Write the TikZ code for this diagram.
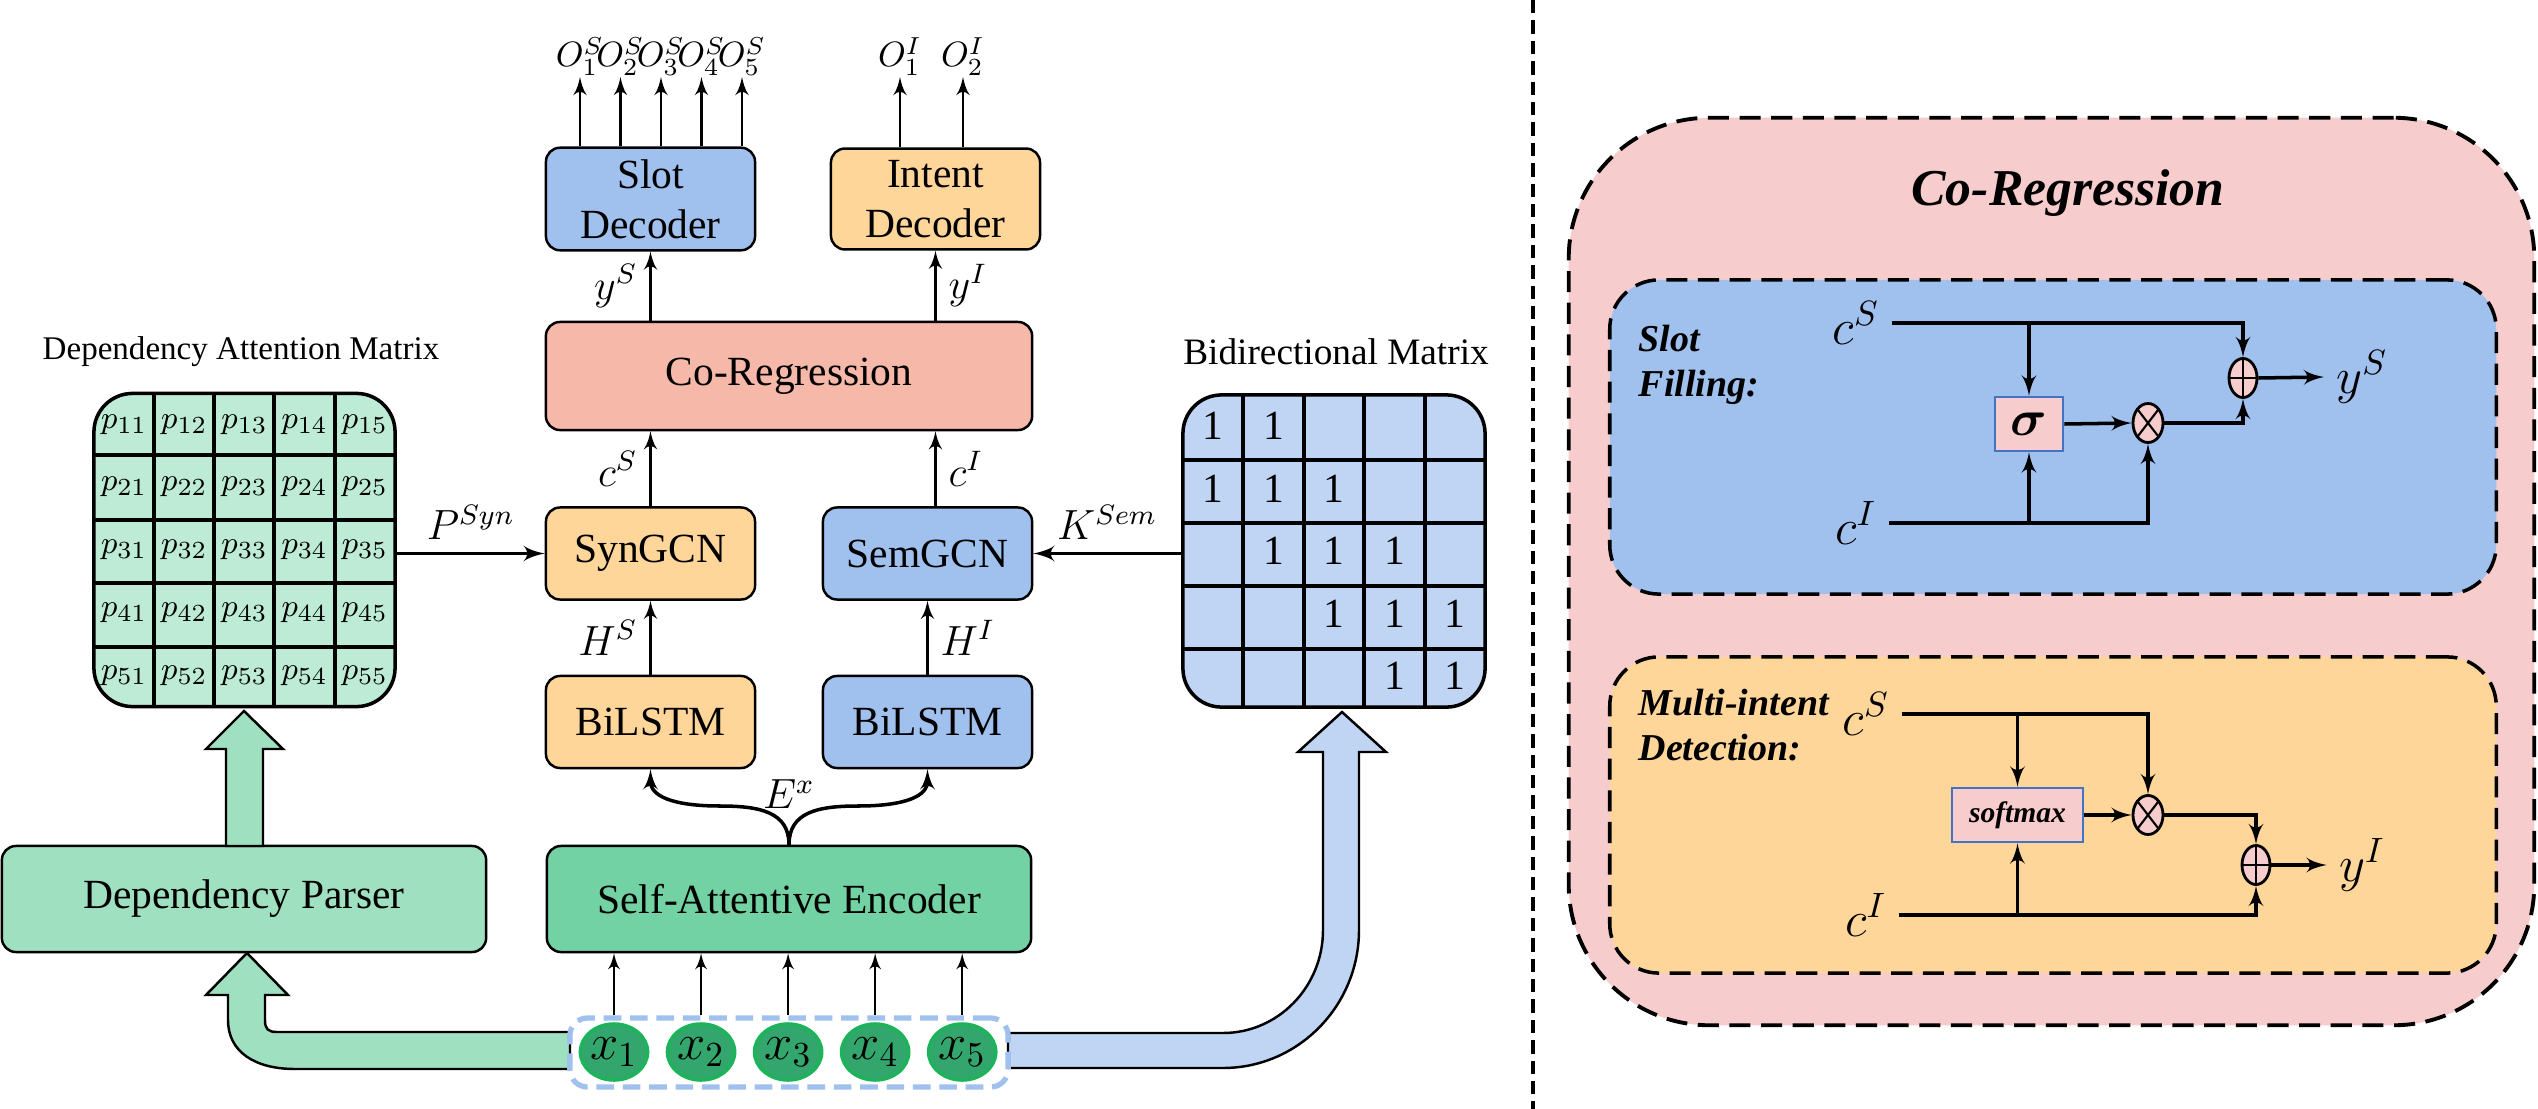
\documentclass[tikz,border=0pt]{standalone}
\usepackage{amsmath,amssymb}
\usepackage[dvipsnames]{xcolor}
\usepackage{fontspec}
\setmainfont{Liberation Serif}
\usepackage{tikz}
\usetikzlibrary{shapes,arrows}

\definecolor{slotblue}{HTML}{A0C0EE}
\definecolor{intentorange}{HTML}{FFD699}
\definecolor{coregsalmon}{HTML}{F6B8A9}
\definecolor{mintgreen}{HTML}{BDEBD6}
\definecolor{parsergreen}{HTML}{9EE0C0}
\definecolor{encgreen}{HTML}{73D2A4}
\definecolor{tokgreen}{HTML}{33A66E}
\definecolor{tokedge}{HTML}{1DB35A}
\definecolor{bimatblue}{HTML}{C0D5F4}
\definecolor{panelpink}{HTML}{F6CCCC}
\definecolor{opblue}{HTML}{4472C4}

\newcommand{\mainfs}{\fontsize{11.8}{14.2}\selectfont}
\newcommand{\bigfs}{\fontsize{14}{16}\selectfont}

\begin{document}
\begin{tikzpicture}[x=0.01cm, y=-0.01cm, >=latex', node distance=0.87cm, font=\mainfs,
    block/.style={draw, rectangle, rounded corners=4pt, line width=0.7pt, minimum width=2.09cm, minimum height=0.92cm, align=center},
    wideblock/.style={block, minimum width=4.84cm, minimum height=1.06cm},
    flow/.style={->, line width=0.8pt},
    matbox/.style={draw, rectangle, rounded corners=11pt, line width=1pt, minimum width=3.01cm, minimum height=3.13cm},
    cellline/.style={line width=1pt},
    tokennode/.style={draw=tokedge, fill=tokgreen, ellipse, line width=1pt, inner sep=0pt, minimum width=0.53cm, minimum height=0.56cm, font=\bigfs},
    band/.style={draw, line width=0.7pt},
    panelbox/.style={draw, rectangle, dash pattern=on 6pt off 3pt, line width=1.1pt},
    opbox/.style={draw=opblue, fill=panelpink, rectangle, line width=0.8pt, minimum height=0.54cm, inner sep=0pt},
    mulop/.style={draw, ellipse, fill=panelpink, line width=0.8pt, inner sep=0pt, minimum width=0.3cm, minimum height=0.39cm,
      path picture={\draw [line width=0.6pt] (path picture bounding box.north west) -- (path picture bounding box.south east)
        (path picture bounding box.north east) -- (path picture bounding box.south west);}},
    addop/.style={draw, ellipse, fill=panelpink, line width=0.8pt, inner sep=0pt, minimum width=0.28cm, minimum height=0.39cm,
      path picture={\draw [line width=0.6pt] (path picture bounding box.north) -- (path picture bounding box.south)
        (path picture bounding box.west) -- (path picture bounding box.east);}},
    wire/.style={->, line width=1pt},
    outlabel/.style={above, inner sep=0pt, font=\fontsize{9.6}{11}\selectfont}
  ]
  \useasboundingbox (0,0) rectangle (2538,1109);

  % model blocks
  \node [block, fill=slotblue] (slotdec) at (650.5,199) {Slot\\Decoder};
  \node [block, fill=intentorange] (intentdec) at (935.5,199) {Intent\\Decoder};
  \node [wideblock, fill=coregsalmon, minimum width=4.86cm, minimum height=1.08cm] (coreg) at (789,376) {Co-Regression};
  \node [block, fill=intentorange] (syngcn) at (650.5,553.5) {SynGCN};
  \node [block, fill=slotblue] (semgcn) at (927.5,553.5) {SemGCN};
  \node [block, fill=intentorange] (lstms) at (650.5,722) {BiLSTM};
  \node [block, fill=slotblue] (lstmi) at (927.5,722) {BiLSTM};
  \node [wideblock, fill=encgreen] (encoder) at (789,899) {Self-Attentive Encoder};
  \node [wideblock, fill=parsergreen] (parser) at (244,899) {Dependency Parser};

  % dependency attention matrix
  \node [matbox, fill=mintgreen] (depmat) at (244.5,550) {};
  \node [font=\fontsize{9.4}{11}\selectfont] (depname) at (241,352) {Dependency Attention Matrix};
  \foreach \gx in {154,214,274,335} \draw [cellline] (\gx,393) -- (\gx,707);
  \foreach \gy in {455,520,583,647} \draw [cellline] (94,\gy) -- (395,\gy);
  \foreach \r in {1,...,5} \foreach \c in {1,...,5}
    \node [inner sep=1pt, font=\fontsize{9.5}{11}\selectfont] (p\r\c) at ({94+60.2*(\c-0.5)},{393+62.8*(\r-0.5)}) {$p_{\r\c}$};

  % bidirectional matrix
  \node [matbox, fill=bimatblue, minimum width=3.02cm, minimum height=3.12cm] (bimat) at (1334,551) {};
  \node [font=\fontsize{10.6}{12}\selectfont] (biname) at (1336,352) {Bidirectional Matrix};
  \foreach \gx in {1243,1304,1364,1425} \draw [cellline] (\gx,395) -- (\gx,707);
  \foreach \gy in {460,523,586,649} \draw [cellline] (1183,\gy) -- (1485,\gy);
  \foreach \r/\c in {1/1,1/2,2/1,2/2,2/3,3/2,3/3,3/4,4/3,4/4,4/5,5/4,5/5}
    \node (b\r\c) at ({1183+60.4*(\c-0.5)},{395+62.4*(\r-0.5)}) {1};

  \draw [flow, line width=1.1pt] (depmat.east |- syngcn.west) -- node [above] (psyn) {$P^{Syn}$} (syngcn.west);
  \draw [flow, line width=1.1pt] (bimat.west |- semgcn.east) -- node [above] (ksem) {$K^{Sem}$} (semgcn.east);

  \draw [flow] (syngcn.north) -- node [left] (cs) {$c^S$} (syngcn.north |- coreg.south);
  \draw [flow] (intentdec.south |- semgcn.north) -- node [right] (ci) {$c^I$} (intentdec.south |- coreg.south);
  \draw [flow] (lstms.north) -- node [left] (hs) {$H^S$} (syngcn.south);
  \draw [flow] (lstmi.north) -- node [right] (hi) {$H^I$} (semgcn.south);
  \draw [flow] (slotdec.south |- coreg.north) -- node [left] (ys) {$y^S$} (slotdec.south);
  \draw [flow] (intentdec.south |- coreg.north) -- node [right] (yi) {$y^I$} (intentdec.south);

  % decoder outputs
  \foreach \i in {1,...,5} {
    \coordinate (ot\i) at ({539.5+40.5*\i},77);
    \draw [flow] (ot\i |- slotdec.north) -- (ot\i) node [outlabel] (os\i) {$O^S_\i$};
  }
  \coordinate (oi1) at (900,77);
  \coordinate (oi2) at (963,77);
  \foreach \i in {1,2}
    \draw [flow] (oi\i |- intentdec.north) -- (oi\i) node [outlabel] (ol\i) {$O^I_\i$};

  % encoder output to both BiLSTMs
  \draw [flow, line width=1pt] (encoder.north) .. controls (789,812) and (760,806) .. (720,806)
    .. controls (670,806) and (650.5,795) .. (lstms.south);
  \draw [flow, line width=1pt] (encoder.north) .. controls (789,812) and (818,806) .. (858,806)
    .. controls (908,806) and (927.5,795) .. (lstmi.south);
  \node (ex) at (789,794) {$E^x$};

  % wide arrows
  \draw [band, fill=parsergreen] (226,846) -- (226,749) -- (206,749) -- (244,711) -- (283,749) -- (263,749) -- (263,846) -- cycle;
  \draw [band, fill=parsergreen] (570,1032) -- (277,1032) .. controls (268,1032) and (265,1029) .. (265,1020)
    -- (265,995) -- (288,995) -- (247,953) -- (206,995) -- (228,995) -- (228,1020)
    .. controls (228,1052) and (255,1069) .. (295,1069) -- (570,1069) -- cycle;
  \draw [band, fill=bimatblue] (1008,1033) -- (1223,1033) .. controls (1278,1033) and (1323,987) .. (1323,930)
    -- (1323,752) -- (1298,752) -- (1342,712) -- (1386,752) -- (1359,752) -- (1359,930)
    .. controls (1359,1006) and (1298,1068) .. (1223,1068) -- (1008,1068) -- cycle;

  % input tokens
  \node [draw=slotblue, line width=1.5pt, dash pattern=on 5pt off 2.5pt, rounded corners=5pt, minimum width=4.38cm, minimum height=0.69cm] (inbox) at (789,1052.5) {};
  \node [tokennode] (tok1) at (614,1052) {$x_1$};
  \node [tokennode, right of=tok1] (tok2) {$x_2$};
  \node [tokennode, right of=tok2] (tok3) {$x_3$};
  \node [tokennode, right of=tok3] (tok4) {$x_4$};
  \node [tokennode, right of=tok4] (tok5) {$x_5$};
  \foreach \i in {1,...,5} \draw [flow, line width=0.6pt] (tok\i |- inbox.north) -- (tok\i |- encoder.south);

  % separator
  \coordinate (septop) at (1533,0);
  \coordinate (sepbot) at (1533,1109);
  \draw [line width=1.1pt, dash pattern=on 3.8pt off 2pt] (septop) -- (sepbot);

  % co-regression detail
  \node [panelbox, fill=panelpink, rounded corners=40pt, minimum width=9.65cm, minimum height=9.07cm] (crpanel) at (2051.5,571.5) {};
  \node [font=\fontsize{14.7}{17}\selectfont\bfseries\itshape] (crtitle) at (2068,193) {Co-Regression};
  \node [panelbox, fill=slotblue, rounded corners=14pt, line width=1pt, minimum width=8.86cm, minimum height=3.14cm] (sfbox) at (2053,437) {};
  \node [panelbox, fill=intentorange, rounded corners=14pt, line width=1pt, minimum width=8.86cm, minimum height=3.16cm] (idbox) at (2053,815) {};
  \node [anchor=north west, align=left, inner sep=0pt, font=\fontsize{10.8}{12.8}\selectfont\bfseries\itshape] (sflabel) at (1638,324) {Slot\\Filling:};
  \node [anchor=north west, align=left, inner sep=0pt, font=\fontsize{10.8}{12.8}\selectfont\bfseries\itshape] (idlabel) at (1638,688) {Multi-intent\\Detection:};

  \node [font=\bigfs] (cs1) at (1856,323) {$c^S$};
  \node [font=\bigfs] (ci1) at (1856,523) {$c^I$};
  \node [opbox, minimum width=0.68cm, font=\bigfs] (sig) at (2029,424) {$\boldsymbol{\sigma}$};
  \node [mulop] (mul1) at (2148,423) {};
  \node [addop] (add1) at (2243,378) {};
  \node [font=\bigfs] (ys1) at (2362,377) {$y^S$};
  \draw [wire] (cs1.east) -| (add1.north);
  \draw [wire] (sig.north |- cs1.east) -- (sig.north);
  \draw [wire] (sig.east) -- (mul1.west);
  \draw [wire] (mul1.east) -| (add1.south);
  \draw [wire] (ci1.east) -| (mul1.south);
  \draw [wire] (sig.south |- ci1.east) -- (sig.south);
  \draw [wire] (add1.east) -- (ys1.west);

  \node [font=\bigfs] (cs2) at (1866,714) {$c^S$};
  \node [font=\bigfs] (ci2) at (1866,915) {$c^I$};
  \node [opbox, minimum width=1.31cm, font=\fontsize{8.4}{10}\selectfont\bfseries\itshape] (smax) at (2017.5,815) {softmax};
  \node [mulop] (mul2) at (2148,815) {};
  \node [addop] (add2) at (2256,865) {};
  \node [font=\bigfs] (yi2) at (2362,865) {$y^I$};
  \draw [wire] (cs2.east) -| (mul2.north);
  \draw [wire] (smax.north |- cs2.east) -- (smax.north);
  \draw [wire] (smax.east) -- (mul2.west);
  \draw [wire] (mul2.east) -| (add2.north);
  \draw [wire] (ci2.east) -| (add2.south);
  \draw [wire] (smax.south |- ci2.east) -- (smax.south);
  \draw [wire] (add2.east) -- (yi2.west);
\end{tikzpicture}
\end{document}
